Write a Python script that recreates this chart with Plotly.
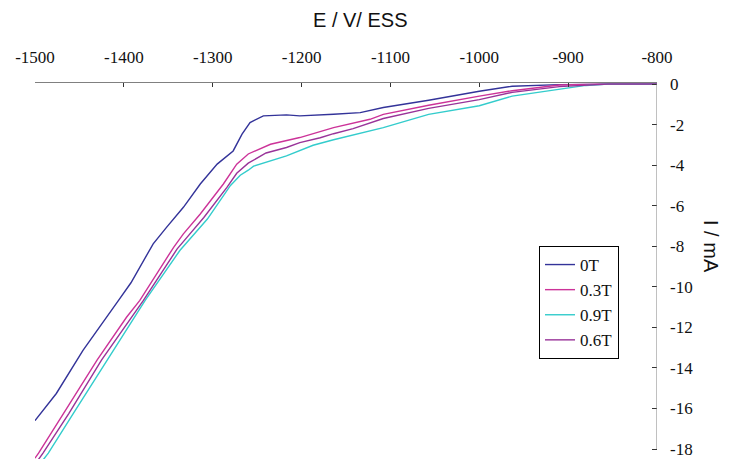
import plotly.graph_objects as go

# ---- data ----
x_0T = [-1500, -1476, -1446, -1419, -1406, -1392, -1367, -1352, -1333, -1314, -1295, -1277, -1267,
        -1258, -1243, -1217, -1202, -1164, -1134, -1108, -1057, -1000, -963, -910, -850, -800]
y_0T = [-16.6, -15.26, -13.13, -11.5, -10.67, -9.8, -7.88, -7.07, -6.08, -4.93, -3.95, -3.3, -2.47,
        -1.9, -1.57, -1.52, -1.57, -1.49, -1.41, -1.16, -0.8, -0.36, -0.11, -0.03, 0, 0]

x_03T = [-1500, -1496, -1468, -1430, -1397, -1382, -1344, -1333, -1314, -1288, -1273, -1260, -1235,
         -1202, -1164, -1123, -1108, -1057, -1000, -963, -910, -855, -800]
y_03T = [-18.45, -18.2, -16.25, -13.6, -11.5, -10.67, -8.05, -7.39, -6.41, -4.93, -3.95, -3.45, -2.97,
         -2.64, -2.15, -1.74, -1.5, -1.05, -0.6, -0.33, -0.05, 0, 0]

x_09T = [-1500, -1485, -1457, -1419, -1376, -1337, -1326, -1306, -1280, -1269, -1260, -1254, -1217,
         -1187, -1164, -1142, -1108, -1057, -1000, -963, -910, -880, -855, -800]
y_09T = [-19.05, -18.2, -16.25, -13.6, -10.67, -8.21, -7.64, -6.66, -5.0, -4.5, -4.25, -4.05, -3.54,
         -3.02, -2.75, -2.5, -2.15, -1.5, -1.07, -0.6, -0.25, -0.07, 0, 0]

x_06T = [-1500, -1491, -1462, -1425, -1378, -1340, -1329, -1310, -1284, -1273, -1260, -1240, -1217,
         -1202, -1179, -1164, -1142, -1108, -1057, -1000, -963, -910, -855, -800]
y_06T = [-18.75, -18.2, -16.25, -13.6, -10.67, -8.13, -7.56, -6.58, -5.1, -4.4, -3.9, -3.4, -3.13,
         -2.89, -2.65, -2.45, -2.2, -1.7, -1.2, -0.77, -0.41, -0.13, 0, 0]

series_names = ["0T", "0.3T", "0.9T", "0.6T"]
series_colors = ["#333399", "#CC3399", "#33CCCC", "#993399"]

x_ticks = [-1500, -1400, -1300, -1200, -1100, -1000, -900, -800]
y_ticks = [0, -2, -4, -6, -8, -10, -12, -14, -16, -18]

fig = go.Figure()
for name, xs, ys, col in zip(series_names, [x_0T, x_03T, x_09T, x_06T],
                             [y_0T, y_03T, y_09T, y_06T], series_colors):
    fig.add_trace(go.Scatter(x=xs, y=ys, mode="lines", name=name, legendgroup=name,
                             line=dict(color=col, width=1.4)))

axis_grey = "#808080"
serif = "Liberation Serif"

# page body has an 8px margin: offset the figure's margins by 8px
fig.update_layout(
    width=722, height=459,
    margin=dict(l=27, r=73, t=75, b=8),
    paper_bgcolor="white", plot_bgcolor="white",
    showlegend=True,
    legend=dict(x=(539 - 35) / 622, y=1 - (246 - 83) / 376, xanchor="left", yanchor="top",
                bordercolor="#000000", borderwidth=1, bgcolor="white",
                font=dict(family=serif, size=17, color="#111"),
                tracegroupgap=6, traceorder="normal"),
    xaxis=dict(side="top", range=[-1500, -800], tickvals=x_ticks,
               ticktext=[str(v) for v in x_ticks],
               showgrid=False, zeroline=False, showline=True, linecolor=axis_grey, linewidth=1,
               ticks="inside", ticklen=4, tickcolor="#333", tickwidth=1,
               tickfont=dict(family=serif, size=17, color="#111"), ticklabelstandoff=12),
    yaxis=dict(side="right", range=[-18.49, 0.05], tickvals=y_ticks,
               ticktext=[str(v) for v in y_ticks],
               showgrid=False, zeroline=False, showline=False,
               ticks="inside", ticklen=5, tickcolor="#333", tickwidth=1,
               tickfont=dict(family=serif, size=17, color="#111"), ticklabelstandoff=12),
    shapes=[dict(type="line", xref="x", yref="y", x0=x_ticks[-1], x1=x_ticks[-1],
                 y0=y_ticks[0], y1=y_ticks[-1], line=dict(color=axis_grey, width=1))],
    annotations=[
        dict(text="E / V/ ESS", xref="paper", yref="paper", x=(360 - 35) / 622,
             y=1 + (83 - 20) / 376, xanchor="center", yanchor="middle", showarrow=False,
             font=dict(family="Liberation Sans", size=20, color="#111")),
        dict(text="I / mA", xref="paper", yref="paper", x=(711 - 35) / 622,
             y=1 - (246 - 83) / 376, xanchor="center", yanchor="middle", showarrow=False,
             textangle=90, font=dict(family="Liberation Sans", size=20, color="#111")),
    ],
)

fig.write_html("out.html")
